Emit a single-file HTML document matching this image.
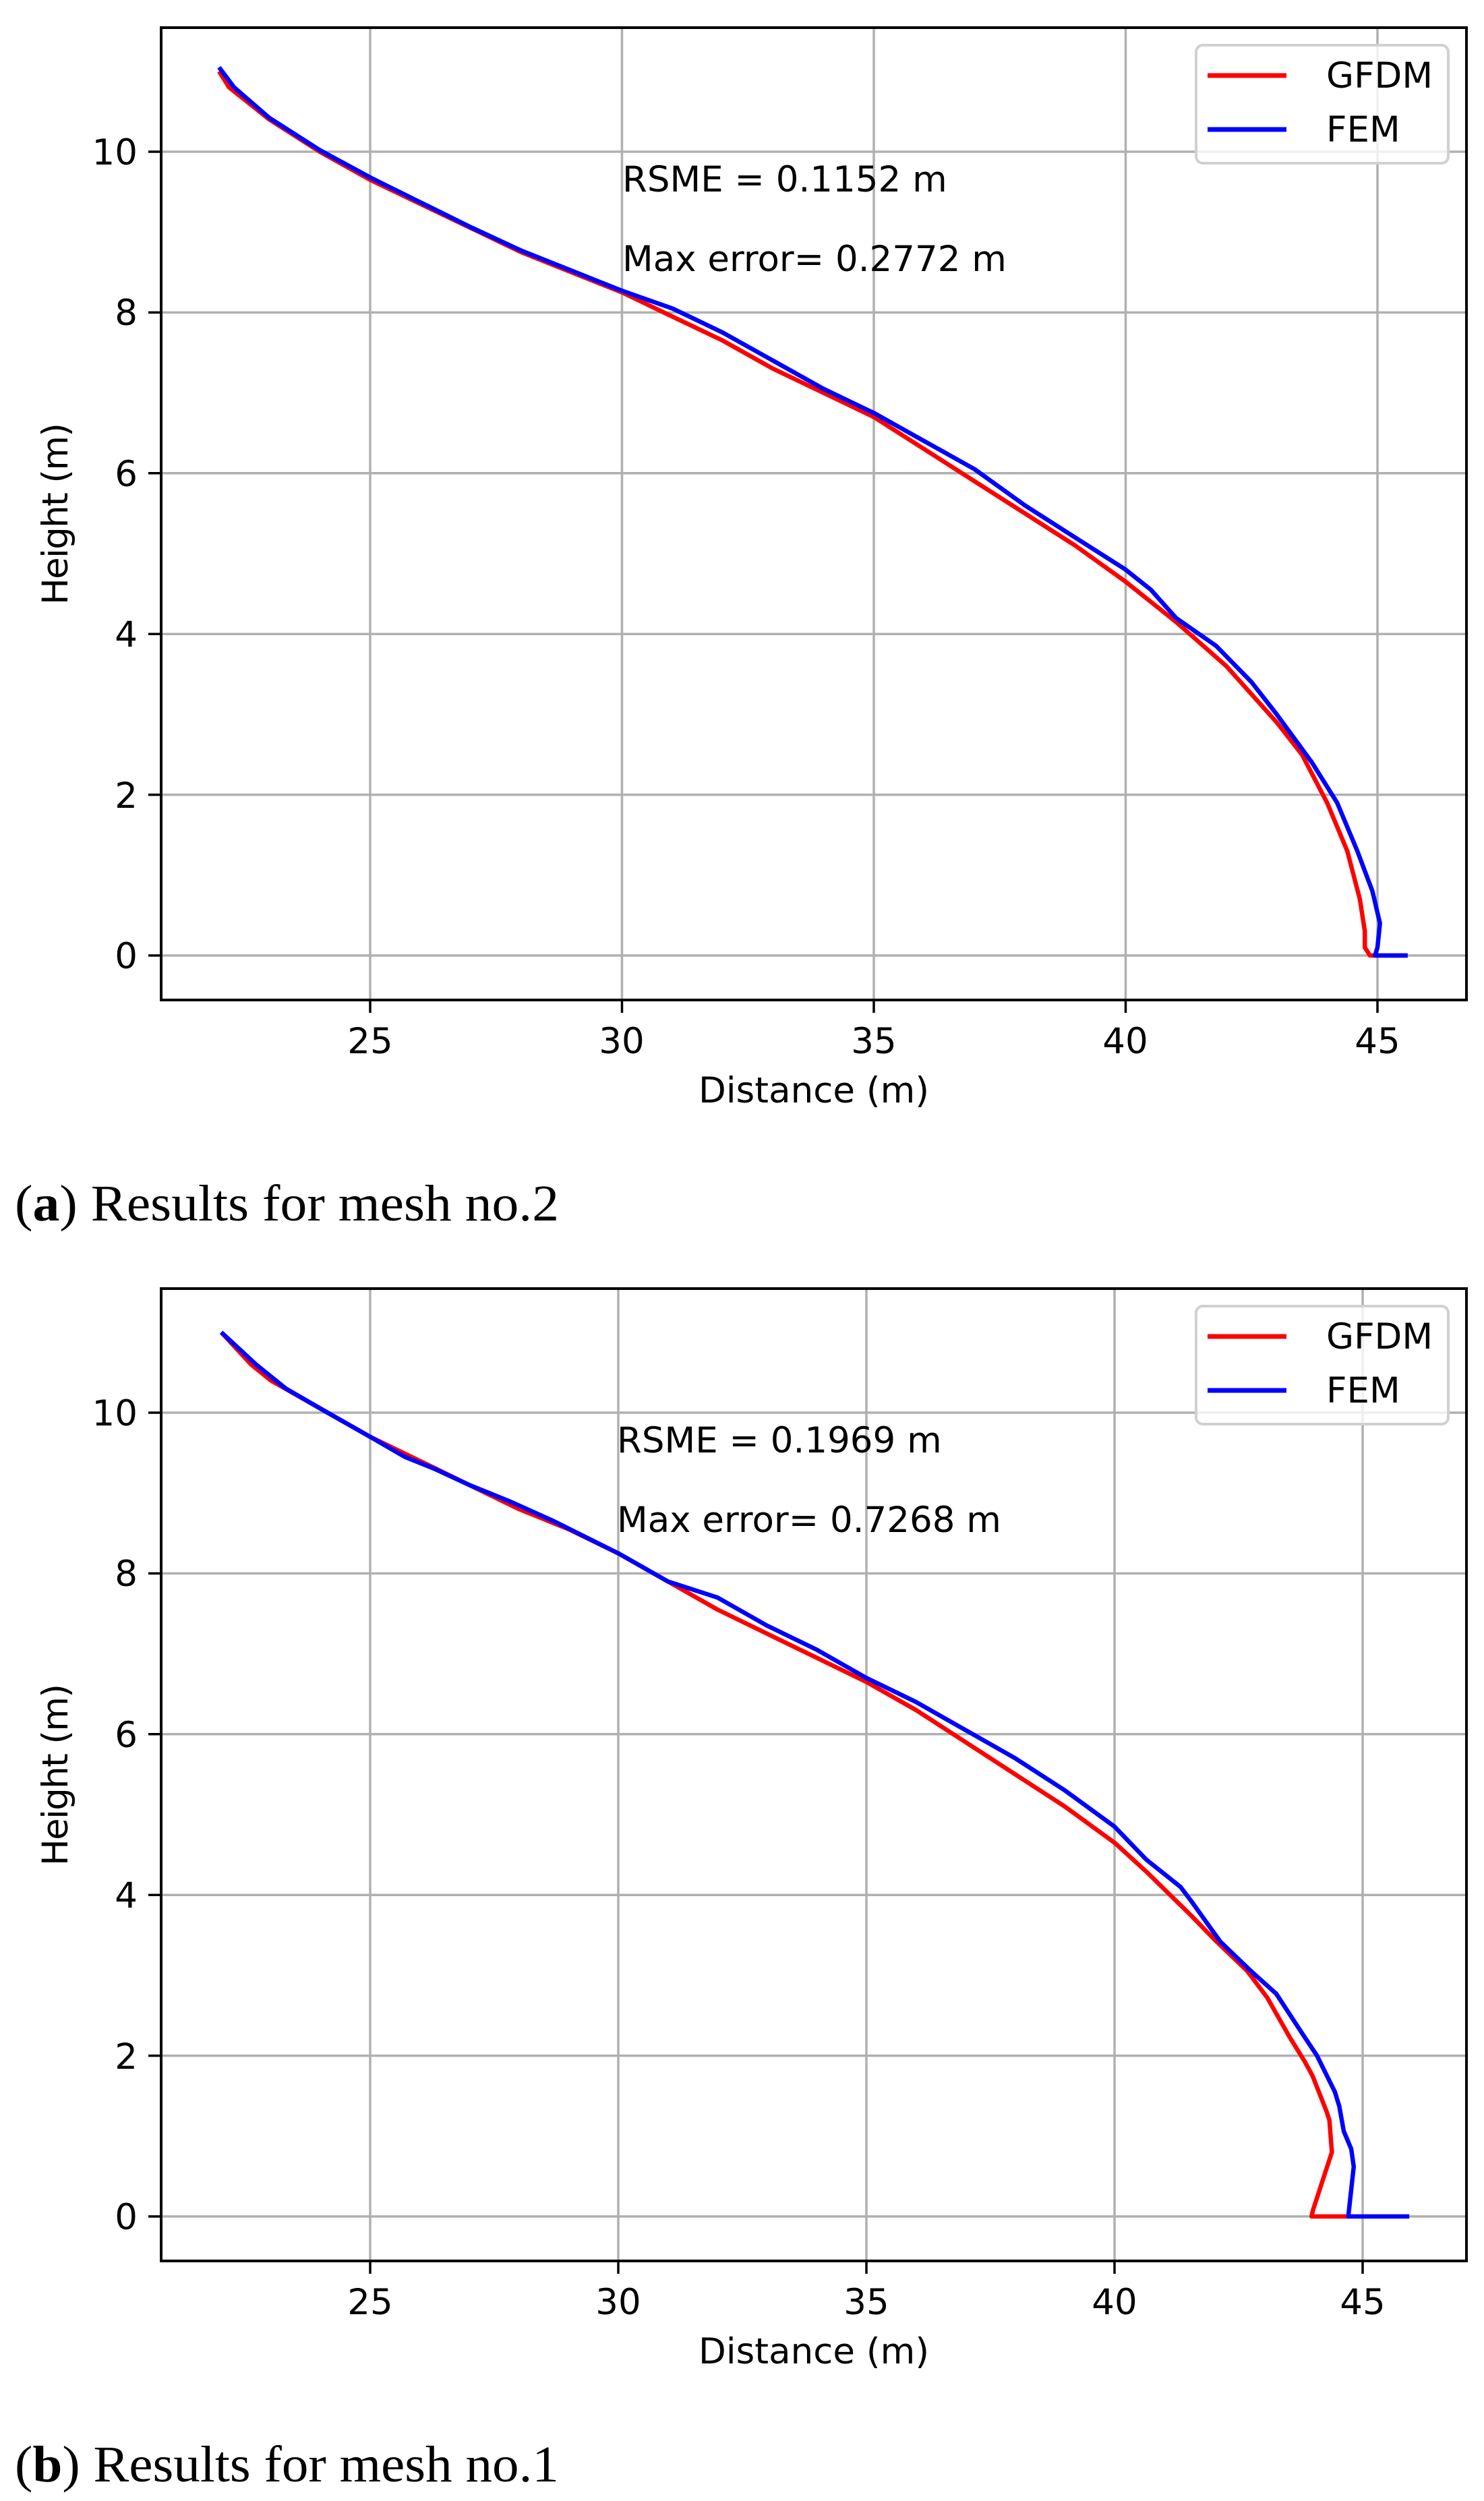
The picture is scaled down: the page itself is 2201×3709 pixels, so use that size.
<!DOCTYPE html>
<html><head><meta charset="utf-8"><style>
html,body{margin:0;padding:0;background:#fff;}
svg{display:block;}
.t{font-family:"DejaVu Sans","Liberation Sans",sans-serif;font-size:53px;fill:#000;}
.c{font-family:"Liberation Serif",serif;font-size:76px;fill:#000;}
</style></head><body>
<svg id="s" width="2201" height="3709" xmlns="http://www.w3.org/2000/svg">
<rect width="2201" height="3709" fill="#fff"/>
<g id="pa"></g>
<g id="pb"></g>
<!-- Panel a texts -->
<g class="t">
<text x="204" y="1436" text-anchor="end">0</text>
<text x="204" y="1198" text-anchor="end">2</text>
<text x="204" y="959" text-anchor="end">4</text>
<text x="204" y="721" text-anchor="end">6</text>
<text x="204" y="482" text-anchor="end">8</text>
<text x="204" y="244" text-anchor="end">10</text>
<text x="549" y="1562" text-anchor="middle">25</text>
<text x="922" y="1562" text-anchor="middle">30</text>
<text x="1296" y="1562" text-anchor="middle">35</text>
<text x="1669" y="1562" text-anchor="middle">40</text>
<text x="2043" y="1562" text-anchor="middle">45</text>
<text x="1207" y="1635" text-anchor="middle" textLength="342">Distance (m)</text>
<text transform="translate(100,762) rotate(-90)" text-anchor="middle" textLength="270">Height (m)</text>
<text x="923" y="284">RSME = 0.1152 m</text>
<text x="923" y="402">Max error= 0.2772 m</text>
<text x="1967" y="130">GFDM</text>
<text x="1967" y="210">FEM</text>
</g>
<text class="c" x="22" y="1810" textLength="807" lengthAdjust="spacingAndGlyphs">(<tspan font-weight="bold">a</tspan>) Results for mesh no.2</text>
<!-- Panel b texts -->
<g class="t">
<text x="204" y="3306" text-anchor="end">0</text>
<text x="204" y="3068" text-anchor="end">2</text>
<text x="204" y="2829" text-anchor="end">4</text>
<text x="204" y="2591" text-anchor="end">6</text>
<text x="204" y="2352" text-anchor="end">8</text>
<text x="204" y="2114" text-anchor="end">10</text>
<text x="549" y="3432" text-anchor="middle">25</text>
<text x="917" y="3432" text-anchor="middle">30</text>
<text x="1285" y="3432" text-anchor="middle">35</text>
<text x="1653" y="3432" text-anchor="middle">40</text>
<text x="2021" y="3432" text-anchor="middle">45</text>
<text x="1207" y="3505" text-anchor="middle" textLength="342">Distance (m)</text>
<text transform="translate(100,2632) rotate(-90)" text-anchor="middle" textLength="270">Height (m)</text>
<text x="915" y="2154">RSME = 0.1969 m</text>
<text x="915" y="2272">Max error= 0.7268 m</text>
<text x="1967" y="2000">GFDM</text>
<text x="1967" y="2080">FEM</text>
</g>
<text class="c" x="22" y="3680" textLength="807" lengthAdjust="spacingAndGlyphs">(<tspan font-weight="bold">b</tspan>) Results for mesh no.1</text>
</svg>
<script>
var NS="http://www.w3.org/2000/svg";
function el(p,t,a){var e=document.createElementNS(NS,t);for(var k in a)e.setAttribute(k,a[k]);p.insertBefore(e,p.firstChild?null:null);p.appendChild(e);return e;}
function panel(id,off,x25,unit,ticks,g,f){
  var p=document.getElementById(id);
  var L=239,R=2175,T=41+off,B=1483+off,y0=1417+off,yu=119.2;
  function X(x){return x25+(x-25)*unit;} function Y(y){return y0-y*yu;}
  ticks.forEach(function(t){var x=X(t);
    el(p,"line",{x1:x,x2:x,y1:T,y2:B,stroke:"#b0b0b0","stroke-width":3.5});
    el(p,"line",{x1:x,x2:x,y1:B,y2:B+19,stroke:"#000","stroke-width":3.5});});
  for(var v=0;v<=10;v+=2){var y=Y(v);
    el(p,"line",{x1:L,x2:R,y1:y,y2:y,stroke:"#b0b0b0","stroke-width":3.5});
    el(p,"line",{x1:L-19,x2:L,y1:y,y2:y,stroke:"#000","stroke-width":3.5});}
  function pl(d,c){el(p,"polyline",{points:d.map(function(q){return X(q[0]).toFixed(1)+","+Y(q[1]).toFixed(1);}).join(" "),fill:"none",stroke:c,"stroke-width":6.5,"stroke-linejoin":"round"});}
  pl(g,"#ff0000");pl(f,"#0000ff");
  el(p,"rect",{x:L,y:T,width:R-L,height:B-T,fill:"none",stroke:"#000","stroke-width":4});
  el(p,"rect",{x:1774,y:67+off,width:374,height:175,rx:10,fill:"#fff","fill-opacity":0.8,stroke:"#d0d0d0","stroke-width":4});
  el(p,"line",{x1:1791,x2:1908,y1:112+off,y2:112+off,stroke:"#ff0000","stroke-width":7});
  el(p,"line",{x1:1791,x2:1908,y1:192+off,y2:192+off,stroke:"#0000ff","stroke-width":7});
}
var gA=[[22,11],[22.2,10.8],[23,10.4],[24,10.0],[25,9.65],[26,9.35],[27,9.05],[28,8.75],[29,8.5],[30,8.25],[31,7.95],[32,7.65],[33,7.3],[34,7.0],[35,6.7],[36,6.3],[37,5.9],[38,5.5],[39,5.1],[40,4.65],[41,4.15],[42,3.6],[43,2.9],[43.5,2.5],[44,1.9],[44.4,1.3],[44.65,0.7],[44.75,0.3],[44.75,0.1],[44.85,0],[45.6,0]];
var fA=[[22,11.05],[22.3,10.8],[23,10.42],[24,10.02],[25,9.68],[26,9.37],[27,9.06],[28,8.77],[29,8.52],[30,8.27],[31,8.05],[32,7.75],[33,7.4],[34,7.05],[35,6.75],[36,6.4],[37,6.05],[38,5.6],[39,5.2],[40,4.8],[40.5,4.55],[41,4.2],[41.8,3.85],[42.5,3.4],[43,3.0],[43.7,2.4],[44.2,1.9],[44.6,1.3],[44.9,0.8],[45.05,0.4],[45.0,0.1],[44.95,0.0],[45.6,0]];
var gB=[[22,11],[22.6,10.6],[23,10.4],[24,10.05],[25,9.7],[26,9.4],[27,9.1],[28,8.8],[29,8.55],[30,8.25],[31,7.9],[32,7.55],[33,7.25],[34,6.95],[35,6.65],[36,6.3],[37,5.9],[38,5.5],[39,5.1],[40,4.65],[40.64,4.29],[41.55,3.74],[41.99,3.46],[42.68,3.05],[43.08,2.72],[43.53,2.23],[43.83,1.93],[43.99,1.75],[44.27,1.31],[44.33,1.2],[44.38,0.8],[44.0,0.08],[43.97,0],[44.71,0]];
var fB=[[22,11],[22.7,10.6],[23.3,10.3],[24,10.05],[25,9.7],[25.7,9.45],[26.3,9.3],[27,9.1],[27.8,8.9],[28.7,8.65],[30,8.25],[31,7.9],[32,7.7],[33,7.35],[34,7.05],[35,6.7],[35.5,6.55],[36,6.4],[37,6.05],[38,5.7],[39,5.3],[40,4.85],[40.64,4.44],[41.33,4.1],[41.55,3.92],[42.13,3.42],[42.72,3.07],[43.26,2.77],[43.8,2.26],[44.08,2.0],[44.44,1.55],[44.53,1.37],[44.62,1.06],[44.77,0.84],[44.82,0.62],[44.71,0],[45.94,0]];
panel("pa",0,549,74.7,[25,30,35,40,45],gA,fA);
panel("pb",1870,549,73.6,[25,30,35,40,45],gB,fB);
</script>
</body></html>
